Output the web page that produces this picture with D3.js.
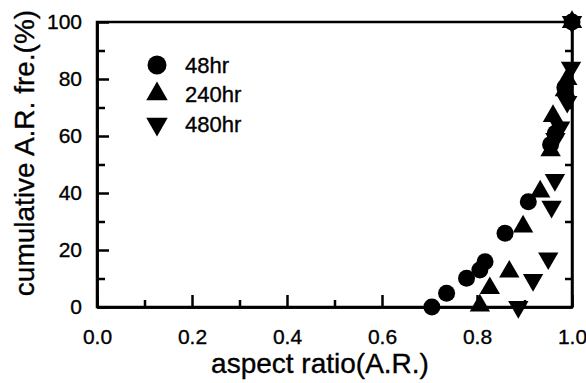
<!DOCTYPE html>
<html><head><meta charset="utf-8">
<script src="https://cdn.jsdelivr.net/npm/d3@7"></script>
<style>body{margin:0;background:#fff}svg{display:block}text{font-family:"Liberation Sans",Arial,sans-serif;fill:#000;stroke:#000;stroke-width:0.35px}</style>
</head><body>
<svg id="c" width="586" height="383"></svg>
<script>
const xMajor = [0.0, 0.2, 0.4, 0.6, 0.8, 1.0];
const xMinor = [0.1, 0.3, 0.5, 0.7, 0.9];
const yMajor = [0, 20, 40, 60, 80, 100];
const yMinor = [10, 30, 50, 70, 90];
const seriesNames = ["48hr", "240hr", "480hr"];
const s48x = [0.705, 0.736, 0.778, 0.806, 0.817, 0.859, 0.908, 0.955, 0.965, 0.985, 1.0];
const s48y = [0, 4.8, 10.1, 13, 15.9, 25.9, 36.9, 57, 61, 77, 100];
const s240x = [0.806, 0.827, 0.868, 0.897, 0.933, 0.955, 0.96, 0.985, 0.99, 1.0];
const s240y = [0.5, 6.6, 12.4, 28.2, 40.5, 55, 67, 76, 80, 100];
const s480x = [0.887, 0.918, 0.950, 0.957, 0.964, 0.965, 0.975, 0.99, 0.998, 1.0];
const s480y = [-0.5, 9.5, 17.1, 35.2, 44.6, 59, 63, 72, 84, 100];

const svg = d3.select("#c");
const x = d3.scaleLinear().domain([0, 1]).range([97, 572]);
const y = d3.scaleLinear().domain([0, 100]).range([307, 22]);
const fmtX = d3.format(".1f");

function styleAxis(g){
  g.selectAll(".domain").attr("stroke","#000").attr("stroke-width",2.5);
  g.selectAll(".tick line").attr("stroke","#000").attr("stroke-width",2.5);
  g.selectAll("text").style("font-size","21px").style("font-family",'"Liberation Sans",Arial,sans-serif');
}
// frame
svg.append("rect").attr("x",x(0)).attr("y",y(100)).attr("width",x(1)-x(0)).attr("height",y(0)-y(100))
  .attr("fill","none").attr("stroke","#000").attr("stroke-width",2.5);

// bottom axis
svg.append("g").attr("transform",`translate(0,${y(0)})`)
  .call(d3.axisBottom(x).tickValues(xMajor).tickFormat(fmtX).tickSizeInner(-12).tickSizeOuter(0).tickPadding(22))
  .call(styleAxis);
svg.append("g").attr("transform",`translate(0,${y(0)})`)
  .call(d3.axisBottom(x).tickValues(xMinor).tickFormat("").tickSizeInner(-7).tickSizeOuter(0))
  .call(styleAxis);
// left axis
svg.append("g").attr("transform",`translate(${x(0)},0)`)
  .call(d3.axisLeft(y).tickValues(yMajor).tickSizeInner(-12).tickSizeOuter(0).tickPadding(15))
  .call(styleAxis);
svg.append("g").attr("transform",`translate(${x(0)},0)`)
  .call(d3.axisLeft(y).tickValues(yMinor).tickFormat("").tickSizeInner(-8).tickSizeOuter(0))
  .call(styleAxis);
// right axis minor
svg.append("g").attr("transform",`translate(${x(1)},0)`)
  .call(d3.axisRight(y).tickValues(yMinor).tickFormat("").tickSizeInner(-7).tickSizeOuter(0))
  .call(styleAxis);

// titles
svg.append("text").attr("x",320).attr("y",373).attr("text-anchor","middle")
  .style("font-size","28px").text("aspect ratio(A.R.)");
svg.append("text").attr("transform","translate(34,153) rotate(-90)").attr("text-anchor","middle")
  .style("font-size","28px").text("cumulative A.R. fre.(%)");

// markers
const circleSym = d3.symbol().type(d3.symbolCircle).size(Math.PI*8.5*8.5);
const triSym = d3.symbol().type(d3.symbolTriangle).size(180);
const series = [
  {xs:s48x, ys:s48y, sym:circleSym, rot:0},
  {xs:s240x, ys:s240y, sym:triSym, rot:0},
  {xs:s480x, ys:s480y, sym:triSym, rot:180}
];
series.forEach(s=>{
  svg.append("g").selectAll("path").data(s.xs.map((v,i)=>[v,s.ys[i]])).join("path")
    .attr("d", s.sym())
    .attr("transform", d=>`translate(${x(d[0])},${y(Math.max(d[1],0))})rotate(${s.rot})`)
    .attr("fill","#000");
});

// legend
const legY = [65, 94, 124];
series.forEach((s,i)=>{
  svg.append("path").attr("d", i===0 ? d3.symbol().type(d3.symbolCircle).size(Math.PI*9.5*9.5)() : d3.symbol().type(d3.symbolTriangle).size(200)())
    .attr("transform",`translate(157,${legY[i]})rotate(${s.rot})`).attr("fill","#000");
  svg.append("text").attr("x",185).attr("y",legY[i]+8).style("font-size","22px").text(seriesNames[i]);
});
</script>
</body></html>
